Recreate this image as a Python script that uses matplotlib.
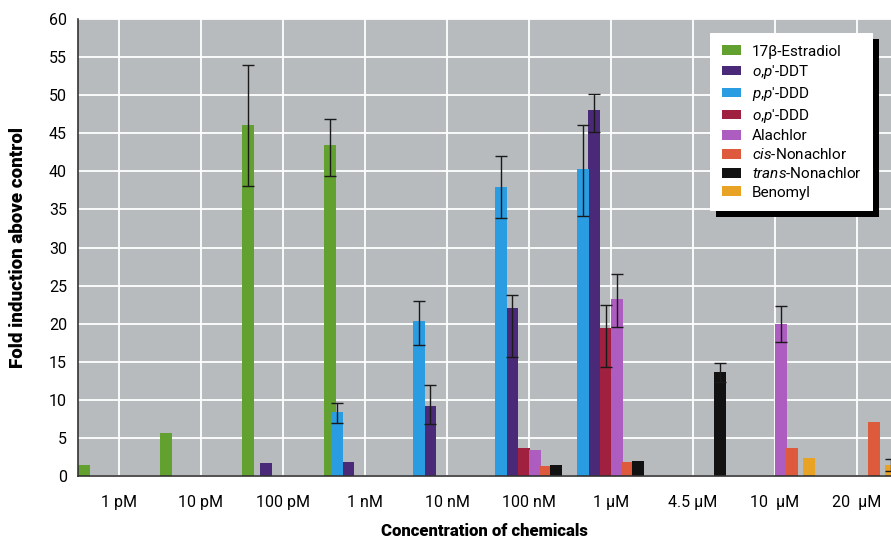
import matplotlib
matplotlib.use("Agg")
import matplotlib.pyplot as plt
import numpy as np

nan = np.nan

categories = ["1 pM", "10 pM", "100 pM", "1 nM", "10 nM", "100 nM", "1 µM", "4.5 µM", "10  µM", "20  µM"]

# fold induction per concentration (nan = not shown)
estradiol = [1.4, 5.7, 46.1, 43.5, nan, nan, nan, nan, nan, nan]
op_ddt    = [nan, nan, 1.7, 1.9, 9.2, 22.1, 48.0, nan, nan, nan]
pp_ddd    = [nan, nan, nan, 8.4, 20.3, 38.0, 40.3, nan, nan, nan]
op_ddd    = [nan, nan, nan, nan, nan, 3.7, 19.4, nan, nan, nan]
alachlor  = [nan, nan, nan, nan, nan, 3.4, 23.3, nan, 20.0, nan]
cis_non   = [nan, nan, nan, nan, nan, 1.3, 1.8, nan, 3.7, 7.1]
trans_non = [nan, nan, nan, nan, nan, 1.5, 2.0, 13.6, nan, nan]
benomyl   = [nan, nan, nan, nan, nan, nan, nan, nan, 2.3, 1.4]

# error bar ends (low, high); nan = no error bar
estradiol_lo = [nan, nan, 38.1, 39.4, nan, nan, nan, nan, nan, nan]
estradiol_hi = [nan, nan, 53.9, 46.9, nan, nan, nan, nan, nan, nan]
op_ddt_lo    = [nan, nan, nan, nan, 6.8, 15.6, 45.1, nan, nan, nan]
op_ddt_hi    = [nan, nan, nan, nan, 11.9, 23.7, 50.2, nan, nan, nan]
pp_ddd_lo    = [nan, nan, nan, 7.0, 17.2, 33.9, 34.1, nan, nan, nan]
pp_ddd_hi    = [nan, nan, nan, 9.6, 23.0, 42.0, 46.1, nan, nan, nan]
op_ddd_lo    = [nan, nan, nan, nan, nan, nan, 14.3, nan, nan, nan]
op_ddd_hi    = [nan, nan, nan, nan, nan, nan, 22.4, nan, nan, nan]
alachlor_lo  = [nan, nan, nan, nan, nan, nan, 19.5, nan, 17.6, nan]
alachlor_hi  = [nan, nan, nan, nan, nan, nan, 26.5, nan, 22.3, nan]
trans_lo     = [nan, nan, nan, nan, nan, nan, nan, 12.3, nan, nan]
trans_hi     = [nan, nan, nan, nan, nan, nan, nan, 14.9, nan, nan]
benomyl_lo   = [nan, nan, nan, nan, nan, nan, nan, nan, nan, 0.6]
benomyl_hi   = [nan, nan, nan, nan, nan, nan, nan, nan, nan, 2.2]
none = [nan] * 10

series = [
    (r"17β-Estradiol", estradiol, estradiol_lo, estradiol_hi),
    (r"$o$,$p$'-DDT", op_ddt, op_ddt_lo, op_ddt_hi),
    (r"$p$,$p$'-DDD", pp_ddd, pp_ddd_lo, pp_ddd_hi),
    (r"$o$,$p$'-DDD", op_ddd, op_ddd_lo, op_ddd_hi),
    ("Alachlor", alachlor, alachlor_lo, alachlor_hi),
    (r"$cis$-Nonachlor", cis_non, none, none),
    (r"$trans$-Nonachlor", trans_non, trans_lo, trans_hi),
    ("Benomyl", benomyl, benomyl_lo, benomyl_hi),
]

# drawing style: colour and left-edge offset of each series inside a group
colors = ["#62a030", "#4a2a78", "#2a9de2", "#a02040", "#ad5cbf", "#de5a3c", "#121212", "#e8a224"]
offsets = [-0.50, -0.285, -0.42, -0.135, 0.0, 0.135, 0.255, 0.345]
bar_w = 0.148

plt.rcParams['font.family'] = ['Roboto', 'DejaVu Sans']
plt.rcParams['mathtext.fontset'] = 'custom'
plt.rcParams['mathtext.it'] = 'Roboto:italic'
plt.rcParams['mathtext.rm'] = 'Roboto'

fig = plt.figure(figsize=(8.91, 5.4), dpi=100)
ax = fig.add_axes([78 / 891, 64 / 540, 813 / 891, 457 / 540])
ax.set_facecolor("#b7bbbd")

x = np.arange(len(categories))
for (label, vals, lo, hi), c, off in zip(series, colors, offsets):
    vals = np.array(vals)
    ax.bar(x + off, np.nan_to_num(vals), width=bar_w, align='edge', color=c, label=label, zorder=2)
    lo = np.array(lo)
    hi = np.array(hi)
    m = ~np.isnan(lo)
    if m.any():
        ax.errorbar(x[m] + off + bar_w / 2, vals[m], yerr=[vals[m] - lo[m], hi[m] - vals[m]],
                    fmt='none', ecolor="#1a1a1a", elinewidth=1, capsize=4, capthick=1, zorder=3)

ax.set_xlim(-0.5, 9.415)
ax.set_ylim(0, 60)
ax.set_xticks(x)
ax.set_xticklabels(categories)
ax.set_yticks(np.arange(0, 61, 5))
ax.tick_params(axis='both', length=0, labelsize=11.5)
ax.tick_params(axis='x', pad=14)
ax.tick_params(axis='y', pad=8)
ax.grid(True, color='white', linewidth=1.3, zorder=1)
ax.set_axisbelow(True)
for s in ['top', 'right']:
    ax.spines[s].set_visible(False)
ax.spines['left'].set_color('#333333')
ax.spines['bottom'].set_color('#333333')
ax.spines['left'].set_linewidth(1.2)
ax.spines['bottom'].set_linewidth(1.2)

ax.set_xlabel("Concentration of chemicals", fontsize=12, fontweight='heavy', labelpad=9)
ax.set_ylabel("Fold induction above control", fontsize=13.5, fontweight='heavy', labelpad=16)

leg = ax.legend(loc='upper right', bbox_to_anchor=(0.978, 0.969), borderaxespad=0, fontsize=11,
                handlelength=1.25, handleheight=0.6, handletextpad=0.7, borderpad=0.75,
                labelspacing=0.27, fancybox=False, framealpha=1,
                shadow={'ox': 4, 'oy': -4, 'facecolor': 'black', 'edgecolor': 'black', 'alpha': 1})
leg.get_frame().set_edgecolor('white')
leg.get_frame().set_linewidth(0)

plt.savefig("out.png", dpi=100)
